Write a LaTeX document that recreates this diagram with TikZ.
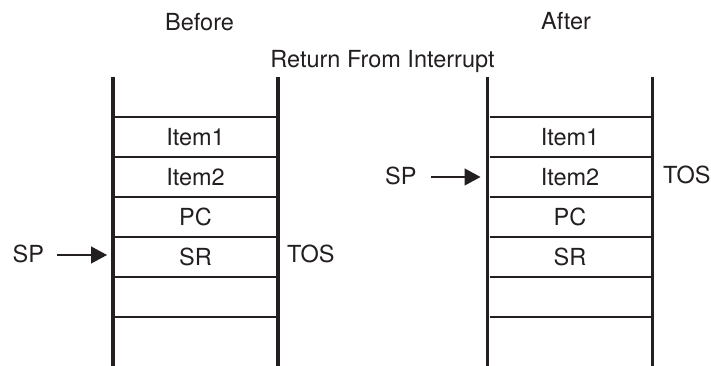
\documentclass[tikz,border=0pt]{standalone}
\usepackage{fontspec}
\setmainfont{TeX Gyre Heros}
\usetikzlibrary{arrows.meta}
\definecolor{ink}{HTML}{231F20}
\tikzset{
  wall/.style={draw=ink, line width=3.6pt},
  rowline/.style={draw=ink, line width=1.3pt},
  lbl/.style={inner sep=0pt, text height=16.8pt, text depth=0pt, anchor=center, text=ink, font=\fontsize{23.5}{26}\selectfont},
  sparrow/.style={draw=ink, line width=1.3pt, -{Triangle[length=16pt,width=17pt]}}
}
\begin{document}
\begin{tikzpicture}[x=1pt,y=-1pt]
\useasboundingbox (0,0) rectangle (711,366);
% titles
\node[lbl] (before) at (199.5,22) {Before};
\node[lbl] (after) at (566,21.5) {After};
\node[lbl] (rfi) at (382.5,59.5) {Return From Interrupt};
% left stack
\draw[wall] (113,77) -- (113,366);
\draw[wall] (278,77) -- (278,366);
\foreach \y in {117,157,197,237,277,317} \draw[rowline] (115,\y) -- (276,\y);
\node[lbl] (l1) at (195.5,137) {Item1};
\node[lbl] (l2) at (195.5,177) {Item2};
\node[lbl] (l3) at (195.5,217) {PC};
\node[lbl] (l4) at (195.5,257) {SR};
\node[lbl, anchor=west] (lsp) at (12.5,254) {SP};
\node[lbl, anchor=west] (ltos) at (287,254) {TOS};
\coordinate (ltip) at (107,255);
\draw[sparrow] (57,255) -- (ltip);
% right stack
\draw[wall] (487.5,77) -- (487.5,366);
\draw[wall] (652.5,77) -- (652.5,366);
\foreach \y in {117,157,197,237,277,317} \draw[rowline] (489.5,\y) -- (650.5,\y);
\node[lbl] (r1) at (570,137) {Item1};
\node[lbl] (r2) at (570,177) {Item2};
\node[lbl] (r3) at (570,217) {PC};
\node[lbl] (r4) at (570,257) {SR};
\node[lbl, anchor=west] (rsp) at (385,176) {SP};
\node[lbl, anchor=west] (rtos) at (663,175) {TOS};
\coordinate (rtip) at (480.5,177);
\draw[sparrow] (431,177) -- (rtip);
\end{tikzpicture}
\end{document}
